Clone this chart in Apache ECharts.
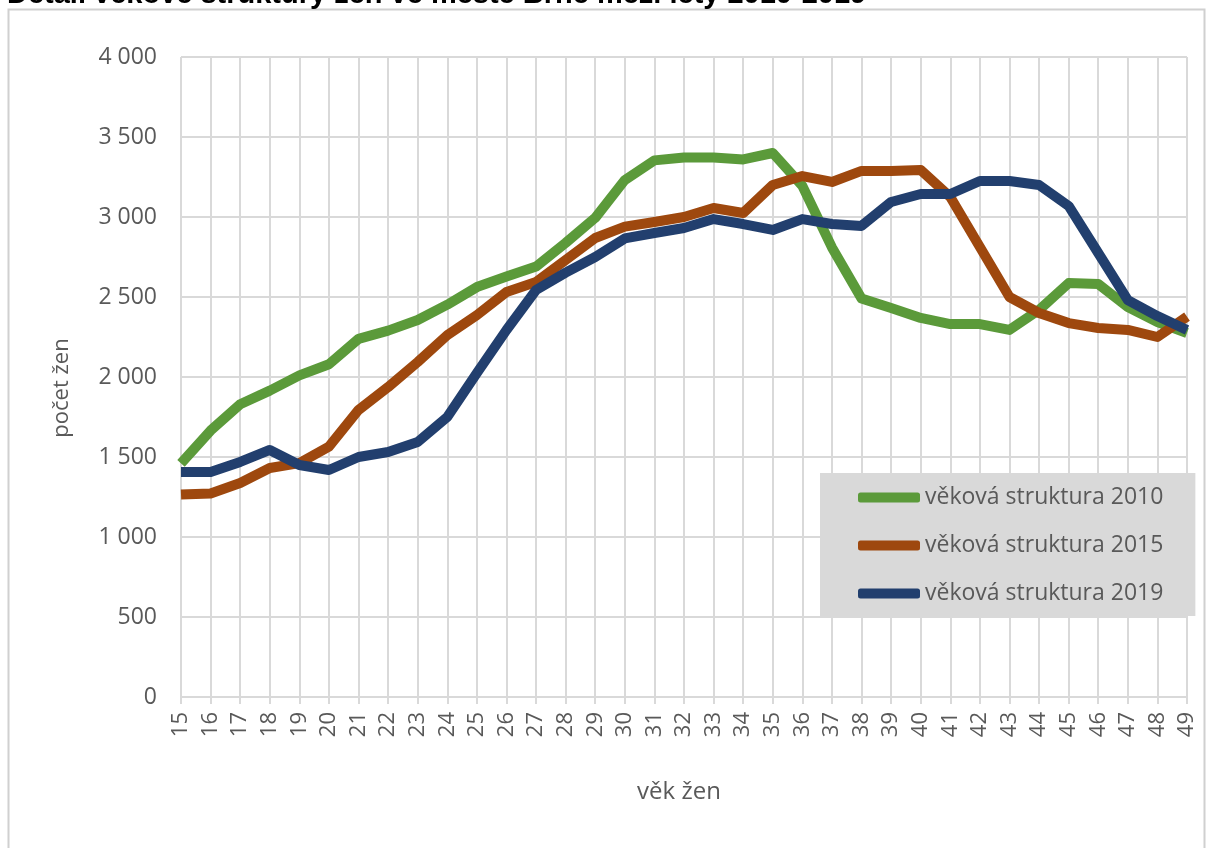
<!DOCTYPE html>
<html>
<head>
<meta charset="utf-8">
<script src="https://cdn.jsdelivr.net/npm/echarts@6/dist/echarts.min.js"></script>
<style>
html,body{margin:0;padding:0;background:#fff;}
#chart{width:1213px;height:848px;}
</style>
</head>
<body>
<div id="chart"></div>
<script>
const ages = ['15','16','17','18','19','20','21','22','23','24','25','26','27','28','29','30','31','32','33','34','35','36','37','38','39','40','41','42','43','44','45','46','47','48','49'];
const s2010 = [1460,1665,1830,1915,2010,2080,2238,2290,2356,2452,2562,2628,2690,2838,2995,3231,3354,3372,3372,3360,3400,3195,2810,2490,2431,2369,2331,2331,2294,2419,2587,2581,2437,2344,2275];
const s2015 = [1265,1272,1337,1431,1462,1565,1794,1937,2094,2262,2387,2531,2594,2731,2869,2940,2969,3000,3056,3025,3200,3256,3219,3288,3288,3294,3125,2812,2500,2400,2337,2306,2294,2250,2378];
const s2019 = [1406,1406,1469,1544,1450,1419,1500,1531,1594,1750,2025,2294,2544,2652,2750,2866,2900,2931,2987,2956,2919,2987,2956,2944,3094,3144,3144,3225,3225,3200,3069,2775,2481,2381,2294];
const seriesNames = ['věková struktura 2010','věková struktura 2015','věková struktura 2019'];
const colors = ['#5B9A3A','#9E480E','#223F6E'];
const yTicks = {min:0, max:4000, interval:500};
const titleText = 'Detail věkové struktury žen ve městě Brně mezi lety 2010-2019';

const chart = echarts.init(document.getElementById('chart'));
const font = 'Open Sans, Lato, sans-serif';
const fmt = v => String(v).replace(/\B(?=(\d{3})+(?!\d))/g, ' ');
chart.setOption({
  animation:false,
  backgroundColor:'#fff',
  title:{text:titleText,left:2,top:-25,textStyle:{fontFamily:'Liberation Sans, Arial',fontWeight:'bold',fontSize:29,color:'#000'}},
  graphic:[{type:'rect',shape:{x:8.5,y:9.5,width:1196,height:860},style:{fill:'none',stroke:'#d0d0d0',lineWidth:2},silent:true,z:-1}],
  grid:{left:181,right:26,top:57,bottom:151,containLabel:false},
  legend:{
    orient:'vertical',left:820,top:473,
    backgroundColor:'#d9d9d9',borderRadius:0,
    padding:[13,32,11,38],itemGap:25,
    itemWidth:62,itemHeight:10,icon:'roundRect',
    textStyle:{fontFamily:font,fontSize:23,color:'#595959',lineHeight:23},
    data:seriesNames
  },
  xAxis:{
    type:'category',data:ages,boundaryGap:false,
    axisLine:{lineStyle:{color:'#d9d9d9',width:2}},
    axisTick:{show:true,length:7,lineStyle:{color:'#d9d9d9',width:2}},
    splitLine:{show:true,lineStyle:{color:'#d9d9d9',width:2}},
    axisLabel:{rotate:90,fontFamily:font,fontSize:22,color:'#595959',margin:15,interval:0},
    name:'věk žen',nameLocation:'middle',nameGap:83,
    nameTextStyle:{fontFamily:font,fontSize:24,color:'#595959',padding:[0,10,0,0]}
  },
  yAxis:{
    type:'value',min:yTicks.min,max:yTicks.max,interval:yTicks.interval,
    axisLine:{show:false},axisTick:{show:false},
    splitLine:{lineStyle:{color:'#d9d9d9',width:2}},
    axisLabel:{formatter:fmt,fontFamily:font,fontSize:23,color:'#595959',margin:24},
    name:'počet žen',nameLocation:'middle',nameGap:108,nameRotate:90,
    nameTextStyle:{fontFamily:font,fontSize:22,color:'#595959',padding:[0,22,0,0]}
  },
  series:[s2010,s2015,s2019].map((d,i)=>({
    name:seriesNames[i],type:'line',data:d,symbol:'none',
    lineStyle:{color:colors[i],width:10,join:'round'},itemStyle:{color:colors[i]},z:2+i
  }))
});
</script>
</body>
</html>
